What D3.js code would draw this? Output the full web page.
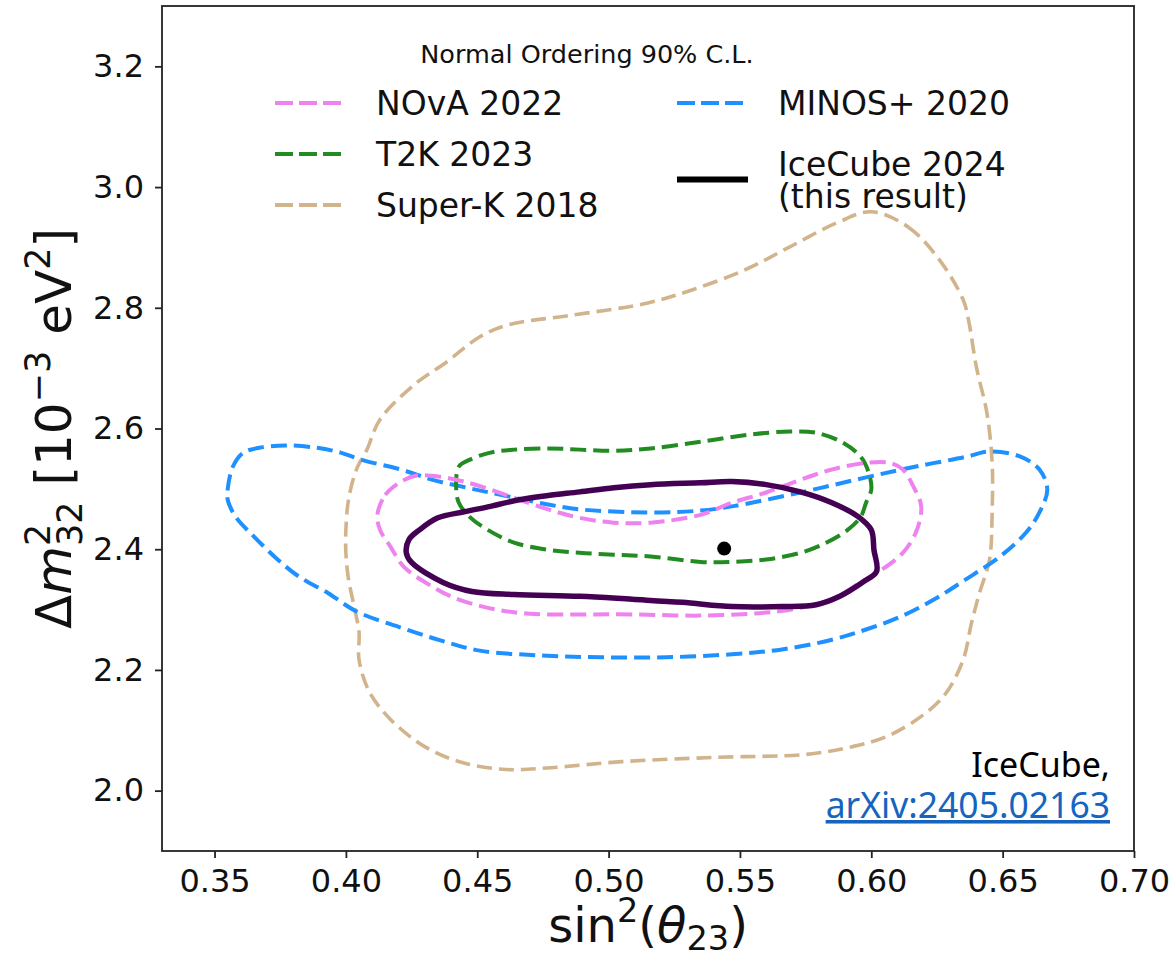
<!DOCTYPE html>
<html>
<head>
<meta charset="utf-8">
<script src="https://cdn.jsdelivr.net/npm/d3@7"></script>
<style>
  body { margin: 0; background: #fff; }
  svg { font-family: "DejaVu Sans", sans-serif; }
</style>
</head>
<body>
<div id="chart"></div>
<script>
// axis ticks
var xTicks = [0.35, 0.40, 0.45, 0.50, 0.55, 0.60, 0.65, 0.70];
var yTicks = [2.0, 2.2, 2.4, 2.6, 2.8, 3.0, 3.2];

// 90% C.L. contours, [sin^2(theta23), dm2_32 (1e-3 eV^2)]
var superkContour = [
  [0.600,2.959],[0.614,2.934],[0.626,2.879],[0.635,2.813],[0.637,2.780],[0.640,2.702],
  [0.644,2.626],[0.646,2.543],[0.646,2.461],[0.645,2.383],[0.641,2.325],[0.638,2.275],
  [0.635,2.217],[0.628,2.159],[0.619,2.123],[0.606,2.090],[0.592,2.072],[0.575,2.060],
  [0.540,2.055],[0.505,2.048],[0.478,2.038],[0.461,2.035],[0.444,2.047],[0.430,2.073],
  [0.417,2.118],[0.409,2.163],[0.405,2.217],[0.405,2.262],[0.403,2.308],[0.401,2.350],
  [0.400,2.394],[0.400,2.432],[0.401,2.482],[0.404,2.532],[0.408,2.565],[0.413,2.615],
  [0.427,2.676],[0.438,2.709],[0.451,2.752],[0.462,2.772],[0.485,2.787],[0.515,2.808],
  [0.532,2.830],[0.552,2.863],[0.569,2.901],[0.587,2.941]
];
var minosContour = [
  [0.355,2.499],[0.357,2.537],[0.361,2.560],[0.367,2.568],[0.377,2.572],[0.389,2.568],
  [0.398,2.560],[0.406,2.548],[0.421,2.532],[0.433,2.515],[0.446,2.502],[0.459,2.490],
  [0.477,2.474],[0.489,2.466],[0.515,2.461],[0.535,2.464],[0.547,2.471],[0.573,2.494],
  [0.598,2.519],[0.617,2.537],[0.636,2.553],[0.645,2.562],[0.657,2.553],[0.664,2.532],
  [0.667,2.499],[0.664,2.461],[0.659,2.428],[0.649,2.388],[0.636,2.350],[0.624,2.317],
  [0.611,2.288],[0.598,2.267],[0.585,2.250],[0.566,2.234],[0.547,2.226],[0.522,2.221],
  [0.497,2.221],[0.474,2.224],[0.451,2.232],[0.436,2.249],[0.421,2.270],[0.404,2.297],
  [0.393,2.328],[0.382,2.355],[0.374,2.383],[0.365,2.421],[0.358,2.454],[0.355,2.482]
];
var t2kContour = [
  [0.442,2.499],[0.443,2.537],[0.447,2.548],[0.455,2.560],[0.464,2.565],[0.477,2.567],
  [0.489,2.565],[0.502,2.563],[0.516,2.567],[0.535,2.578],[0.554,2.590],[0.569,2.595],
  [0.579,2.593],[0.589,2.577],[0.596,2.553],[0.599,2.527],[0.600,2.499],[0.598,2.477],
  [0.596,2.454],[0.591,2.432],[0.583,2.411],[0.573,2.394],[0.560,2.383],[0.547,2.379],
  [0.535,2.379],[0.516,2.388],[0.502,2.391],[0.489,2.394],[0.477,2.399],[0.464,2.411],
  [0.454,2.432],[0.447,2.454],[0.443,2.477]
];
var novaContour = [
  [0.412,2.457],[0.415,2.490],[0.421,2.512],[0.427,2.522],[0.436,2.520],[0.445,2.512],
  [0.455,2.499],[0.464,2.485],[0.477,2.466],[0.489,2.452],[0.502,2.444],[0.516,2.444],
  [0.535,2.457],[0.547,2.477],[0.560,2.494],[0.573,2.515],[0.585,2.532],[0.598,2.543],
  [0.607,2.543],[0.612,2.532],[0.616,2.504],[0.619,2.471],[0.617,2.428],[0.612,2.394],
  [0.604,2.366],[0.596,2.345],[0.585,2.317],[0.573,2.303],[0.560,2.295],[0.535,2.290],
  [0.509,2.292],[0.489,2.292],[0.470,2.293],[0.455,2.302],[0.441,2.320],[0.431,2.343],
  [0.422,2.371],[0.417,2.404],[0.413,2.432]
];
var icecubeContour = [
  [0.423,2.394],[0.424,2.416],[0.428,2.432],[0.435,2.452],[0.445,2.462],[0.455,2.471],
  [0.466,2.482],[0.477,2.489],[0.489,2.495],[0.502,2.502],[0.516,2.507],[0.535,2.510],
  [0.547,2.512],[0.560,2.507],[0.573,2.495],[0.585,2.477],[0.595,2.454],[0.600,2.432],
  [0.601,2.399],[0.602,2.363],[0.597,2.346],[0.588,2.322],[0.579,2.308],[0.566,2.305],
  [0.547,2.305],[0.528,2.312],[0.509,2.317],[0.489,2.322],[0.464,2.325],[0.448,2.330],
  [0.437,2.345],[0.425,2.378]
];
var bestFit = [0.544, 2.401];

var W = 1176, H = 960;
var margin = {left: 162, right: 42, top: 6, bottom: 109};

var svg = d3.select("#chart").append("svg")
  .attr("width", W).attr("height", H);

var x = d3.scaleLinear().domain([0.33, 0.70]).range([margin.left, W - margin.right]);
var y = d3.scaleLinear().domain([1.9, 3.3]).range([H - margin.bottom, margin.top]);

var line = d3.line()
  .x(function(d) { return x(d[0]); })
  .y(function(d) { return y(d[1]); })
  .curve(d3.curveCatmullRomClosed.alpha(0.5));

var contours = [
  {data: superkContour, color: "#d2b48c", width: 3.6, dash: "15,7"},
  {data: minosContour, color: "#1e90ff", width: 4, dash: "16,7"},
  {data: t2kContour, color: "#228b22", width: 4, dash: "16,7"},
  {data: novaContour, color: "#ee82ee", width: 4, dash: "16,7"},
  {data: icecubeContour, color: "#440154", width: 5.5, dash: null}
];

var plot = svg.append("g").attr("class", "contours");
contours.forEach(function(c) {
  plot.append("path")
    .attr("d", line(c.data))
    .attr("fill", "none")
    .attr("stroke", c.color)
    .attr("stroke-width", c.width)
    .attr("stroke-dasharray", c.dash)
    .attr("stroke-linejoin", "round");
});

plot.append("circle")
  .attr("cx", x(bestFit[0])).attr("cy", y(bestFit[1]))
  .attr("r", 7).attr("fill", "black");

// axes
var xAxis = svg.append("g")
  .attr("transform", "translate(0," + (H - margin.bottom) + ")")
  .call(d3.axisBottom(x).tickValues(xTicks).tickFormat(d3.format(".2f")).tickSize(7).tickPadding(11));
var yAxis = svg.append("g")
  .attr("transform", "translate(" + margin.left + ",0)")
  .call(d3.axisLeft(y).tickValues(yTicks).tickFormat(d3.format(".1f")).tickSize(7).tickPadding(11));

[xAxis, yAxis].forEach(function(a) {
  a.select(".domain").remove();
  a.selectAll(".tick line").attr("stroke", "#222").attr("stroke-width", 1.8);
  a.selectAll(".tick text")
    .attr("fill", "#111")
    .style("font-family", "DejaVu Sans")
    .style("font-size", "32px");
});

svg.append("rect")
  .attr("x", margin.left).attr("y", margin.top)
  .attr("width", W - margin.left - margin.right)
  .attr("height", H - margin.top - margin.bottom)
  .attr("fill", "none").attr("stroke", "#222").attr("stroke-width", 1.8);

// math-style labels built from pieces
function mathLabel(g, pieces, size) {
  var cx = 0, prevStart = 0, prevW = 0;
  pieces.forEach(function(p) {
    var fs = p.small ? size * 0.7 : size;
    var x0 = (p.stack ? prevStart : cx) + (p.gap || 0) * size;
    var t = g.append("text")
      .attr("x", x0).attr("y", (p.dy || 0) * size)
      .style("font-size", fs + "px")
      .style("font-style", p.it ? "italic" : "normal")
      .attr("fill", "#111")
      .text(p.t);
    var w = t.node().getComputedTextLength();
    if (p.stack) {
      cx = Math.max(prevStart + prevW, x0 + w);
    } else {
      prevStart = x0; prevW = w; cx = x0 + w;
    }
  });
  return cx;
}

var xl = svg.append("g").attr("transform", "translate(" + x(0.515) + ",942)");
var xlInner = xl.append("g");
var xw = mathLabel(xlInner, [
  {t: "sin"}, {t: "2", small: true, dy: -0.42}, {t: "("}, {t: "θ", it: true},
  {t: "23", small: true, dy: 0.17}, {t: ")"}
], 48);
xlInner.attr("transform", "translate(" + (-xw / 2) + ",0)");

var yl = svg.append("g").attr("transform", "translate(71," + y(2.6) + ") rotate(-90)");
var ylInner = yl.append("g");
var yw = mathLabel(ylInner, [
  {t: "Δ"}, {t: "m", it: true}, {t: "2", small: true, dy: -0.42},
  {t: "32", small: true, dy: 0.22, stack: true},
  {t: "[10", gap: 0.32}, {t: "−3", small: true, dy: -0.42}, {t: "eV", gap: 0.32},
  {t: "2", small: true, dy: -0.42}, {t: "]"}
], 50);
ylInner.attr("transform", "translate(" + (-yw / 2) + ",0)");

// legend
var legendTitle = "Normal Ordering 90% C.L.";
var legendItems = [
  {label: ["NOvA 2022"], color: "#ee82ee", dash: "18,6", width: 4, col: 0, row: 0},
  {label: ["T2K 2023"], color: "#228b22", dash: "18,6", width: 4, col: 0, row: 1},
  {label: ["Super-K 2018"], color: "#d2b48c", dash: "18,6", width: 4, col: 0, row: 2},
  {label: ["MINOS+ 2020"], color: "#1e90ff", dash: "18,6", width: 4, col: 1, row: 0},
  {label: ["IceCube 2024", "(this result)"], color: "black", dash: null, width: 6, col: 1, row: 1.5}
];
var legend = svg.append("g").attr("class", "legend");
legend.append("text")
  .attr("x", 587).attr("y", 63)
  .attr("text-anchor", "middle")
  .style("font-size", "25.5px").attr("fill", "#111")
  .text(legendTitle);

var colX = [275, 677];
legendItems.forEach(function(it) {
  var ly = 103 + it.row * 51;
  legend.append("line")
    .attr("x1", colX[it.col]).attr("x2", colX[it.col] + 71)
    .attr("y1", ly).attr("y2", ly)
    .attr("stroke", it.color).attr("stroke-width", it.width)
    .attr("stroke-dasharray", it.dash);
  var n = it.label.length;
  it.label.forEach(function(s, i) {
    legend.append("text")
      .attr("x", colX[it.col] + 101)
      .attr("y", ly + 12 + (i - (n - 1) / 2) * 32)
      .style("font-size", "33px").attr("fill", "#111")
      .text(s);
  });
});

// citation
var cite = svg.append("g").style("font-family", "'Noto Sans', sans-serif");
cite.append("text")
  .attr("x", 1110).attr("y", 777).attr("text-anchor", "end")
  .style("font-size", "34px").attr("fill", "#000")
  .text("IceCube,");
cite.append("text")
  .attr("x", 1110).attr("y", 818).attr("text-anchor", "end")
  .style("font-size", "35.5px").attr("fill", "#1565c0")
  .style("text-decoration", "underline")
  .text("arXiv:2405.02163");
</script>
</body>
</html>
